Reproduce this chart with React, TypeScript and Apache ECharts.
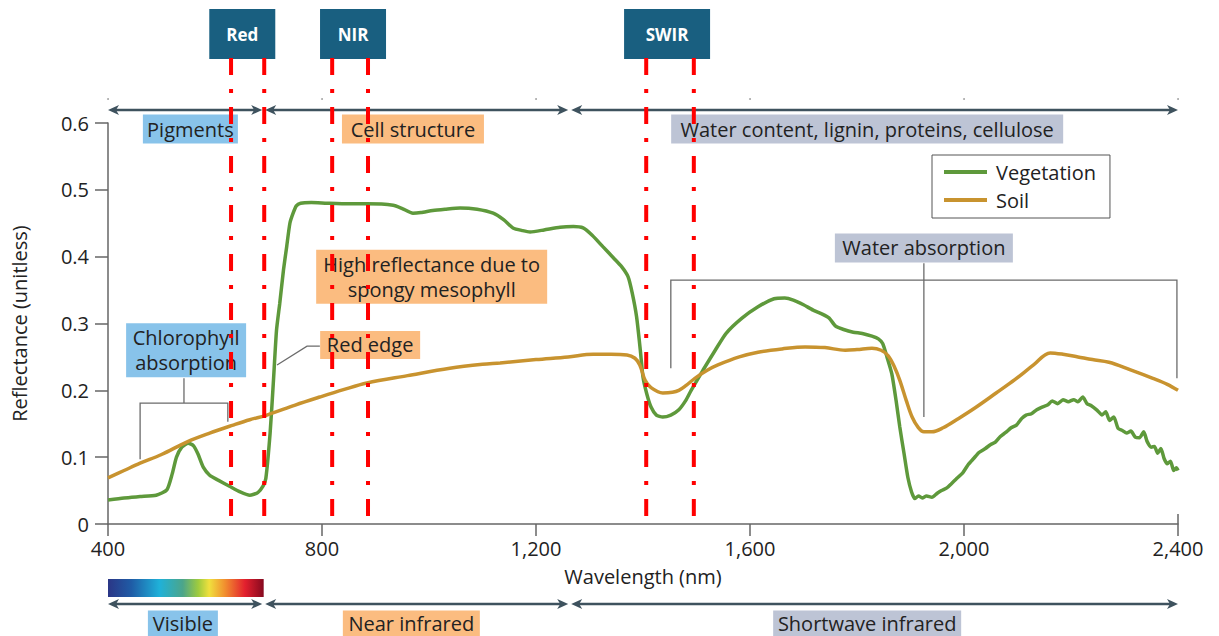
import React, { useEffect, useRef } from "react";
import * as echarts from "echarts";

const FONT = '"Open Sans", "Noto Sans", sans-serif';
const TEXT = "#222222";

// Spectral reflectance curves (wavelength in nm, reflectance unitless)
const vegWavelength = [
  400, 430, 460, 490, 510, 520, 528, 538, 550, 560, 568, 578, 590, 605, 628, 647, 665, 680, 690, 695,
  703, 709, 715, 721, 728, 734, 740, 746, 752, 760, 780, 809, 850, 884, 933, 950, 970, 985, 1007, 1030,
  1058, 1090, 1120, 1140, 1157, 1175, 1189, 1215, 1245, 1270, 1288, 1305, 1325, 1345, 1360, 1372, 1380, 1388, 1395, 1400,
  1407, 1415, 1425, 1437, 1452, 1467, 1480, 1490, 1512, 1535, 1555, 1585, 1615, 1645, 1665, 1681, 1700, 1718, 1735, 1748,
  1760, 1775, 1793, 1810, 1828, 1840, 1848, 1856, 1865, 1873, 1880, 1888, 1895, 1902, 1908, 1915, 1922, 1930, 1940, 1950,
  1958, 1968, 1976, 1985, 1998, 2008, 2018, 2028, 2040, 2050, 2058, 2068, 2078, 2088, 2098, 2108, 2116, 2126, 2136, 2146,
  2156, 2165, 2175, 2185, 2195, 2205, 2213, 2222, 2230, 2238, 2249, 2258, 2265, 2272, 2280, 2288, 2296, 2304, 2312, 2320,
  2328, 2336, 2342, 2350, 2356, 2362, 2368, 2374, 2380, 2386, 2392, 2397, 2400,
];
const vegReflectance = [
  0.036, 0.039, 0.041, 0.043, 0.051, 0.075, 0.1, 0.115, 0.121, 0.117, 0.105, 0.085, 0.073, 0.066, 0.056, 0.048, 0.043, 0.047, 0.057, 0.068,
  0.136, 0.211, 0.29, 0.33, 0.38, 0.415, 0.45, 0.465, 0.476, 0.48, 0.481, 0.48, 0.479, 0.479, 0.477, 0.472, 0.465, 0.466, 0.469, 0.471,
  0.473, 0.471, 0.465, 0.455, 0.443, 0.439, 0.437, 0.44, 0.444, 0.445, 0.443, 0.432, 0.415, 0.398, 0.385, 0.37, 0.345, 0.31, 0.26, 0.22,
  0.195, 0.175, 0.163, 0.16, 0.163, 0.171, 0.185, 0.2, 0.23, 0.26, 0.285, 0.308, 0.325, 0.337, 0.338, 0.335, 0.328, 0.32, 0.314, 0.308,
  0.296, 0.291, 0.287, 0.285, 0.281, 0.277, 0.27, 0.25, 0.225, 0.185, 0.145, 0.105, 0.07, 0.048, 0.038, 0.042, 0.039, 0.042, 0.04, 0.046,
  0.05, 0.054, 0.06, 0.067, 0.077, 0.089, 0.098, 0.107, 0.113, 0.119, 0.122, 0.131, 0.137, 0.144, 0.148, 0.158, 0.163, 0.165, 0.171, 0.175,
  0.178, 0.184, 0.18, 0.186, 0.183, 0.186, 0.183, 0.19, 0.18, 0.177, 0.17, 0.163, 0.168, 0.155, 0.16, 0.143, 0.14, 0.136, 0.139, 0.13,
  0.129, 0.138, 0.124, 0.115, 0.116, 0.106, 0.113, 0.098, 0.09, 0.094, 0.08, 0.084, 0.08,
];

const soilWavelength = [
  400, 430, 460, 500, 548, 590, 634, 665, 697, 750, 796, 840, 884, 960, 1039, 1100, 1133, 1200, 1260, 1307,
  1340, 1370, 1385, 1394, 1404, 1415, 1437, 1455, 1467, 1480, 1497, 1520, 1540, 1580, 1615, 1660, 1703, 1740, 1778, 1800,
  1828, 1845, 1858, 1870, 1880, 1892, 1903, 1914, 1925, 1940, 1961, 1990, 2021, 2060, 2095, 2130, 2161, 2185, 2213, 2240,
  2271, 2310, 2353, 2380, 2400,
];
const soilReflectance = [
  0.069, 0.08, 0.091, 0.104, 0.123, 0.136, 0.148, 0.156, 0.163, 0.178, 0.19, 0.201, 0.211, 0.222, 0.233, 0.239, 0.241, 0.246, 0.25, 0.254,
  0.254, 0.253, 0.248, 0.238, 0.215, 0.204, 0.196, 0.197, 0.2, 0.207, 0.218, 0.23, 0.238, 0.25, 0.257, 0.262, 0.265, 0.264, 0.26, 0.261,
  0.263, 0.26, 0.252, 0.235, 0.215, 0.185, 0.16, 0.145, 0.138, 0.138, 0.144, 0.158, 0.174, 0.196, 0.216, 0.238, 0.256, 0.254, 0.25, 0.246,
  0.242, 0.231, 0.218, 0.209, 0.2,
];

// Sensor bands (nm) and where each band's header sits
const bandNames = ["Red", "NIR", "SWIR"];
const bandStart = [630, 819, 1406];
const bandEnd = [692, 886, 1495];
const bandHeaderCenter = [651, 858, 1445];

// Spectral regions (nm) with their labels
const regionStart = [400, 691, 1263];
const regionEnd = [691, 1263, 2400];
const regionTopLabels = ["Pigments", "Cell structure", "Water content, lignin, proteins, cellulose"];
const regionBottomLabels = ["Visible", "Near infrared", "Shortwave infrared"];

const GREEN = "#5e993b";
const GOLD = "#c8932f";
const BLUE_BOX = "#88c3ea";
const ORANGE_BOX = "#fbbc80";
const GREY_BOX = "#bdc4d5";
const ARROW = "#3e525e";
const BRACKET = "#6b6b6b";

function textEl(x: number, y: number, text: string) {
  return {
    type: "text",
    x,
    y,
    z: 51,
    style: {
      text,
      fill: TEXT,
      fontSize: 20,
      fontFamily: FONT,
      align: "center",
      verticalAlign: "middle",
      textAlign: "center",
      textVerticalAlign: "middle",
    },
  };
}

// filled box with one or more centred lines of text
function labelBox(cx: number, cy: number, w: number, h: number, fill: string, lines: string[], spacing = 25) {
  const first = cy - ((lines.length - 1) * spacing) / 2;
  return {
    type: "group",
    z: 50,
    children: [
      { type: "rect", shape: { x: cx - w / 2, y: cy - h / 2, width: w, height: h }, style: { fill }, z: 50 },
      ...lines.map((t, i) => textEl(cx, first + i * spacing, t)),
    ],
  };
}

function doubleArrow(x1: number, x2: number, y: number) {
  const L = 11;
  const H = 5;
  const N = 3;
  return [
    { type: "line", z: 40, shape: { x1: x1 + 6, y1: y, x2: x2 - 6, y2: y }, style: { stroke: ARROW, lineWidth: 2.6 } },
    {
      type: "polygon",
      z: 40,
      shape: { points: [[x1, y], [x1 + L, y - H], [x1 + L - N, y], [x1 + L, y + H]] },
      style: { fill: ARROW },
    },
    {
      type: "polygon",
      z: 40,
      shape: { points: [[x2, y], [x2 - L, y - H], [x2 - L + N, y], [x2 - L, y + H]] },
      style: { fill: ARROW },
    },
  ];
}

function polyline(points: number[][]) {
  return { type: "polyline", z: 45, shape: { points }, style: { stroke: BRACKET, lineWidth: 1.3, fill: "none" } };
}

function buildGraphic(chart: echarts.ECharts) {
  const px = (nm: number, r: number) => chart.convertToPixel({ xAxisIndex: 0, yAxisIndex: 0 }, [nm, r]) as number[];
  const X = (nm: number) => px(nm, 0)[0];
  const Y = (r: number) => px(400, r)[1];
  const els: any[] = [];

  // band header boxes and dash-dot band edges
  const boxW = [66, 66, 86];
  bandNames.forEach((name, i) => {
    const cx = X(bandHeaderCenter[i]);
    els.push({ type: "rect", z: 60, shape: { x: cx - boxW[i] / 2, y: 9, width: boxW[i], height: 50 }, style: { fill: "#195f80" } });
    els.push({
      type: "text",
      z: 61,
      x: cx,
      y: 34,
      style: {
        text: name,
        fill: "#ffffff",
        fontSize: 17,
        fontWeight: "bold",
        fontFamily: FONT,
        align: "center",
        verticalAlign: "middle",
        textAlign: "center",
        textVerticalAlign: "middle",
      },
    });
    [X(bandStart[i]), X(bandEnd[i])].forEach((x) => {
      els.push({
        type: "line",
        z: 100,
        shape: { x1: x, y1: 58, x2: x, y2: Y(0) - 5 },
        style: { stroke: "#ff0000", lineWidth: 4, lineDash: [17, 14, 4, 14] },
      });
    });
  });

  // faint marks above the top arrows at each wavelength tick
  [400, 800, 1200, 1600, 2000, 2400].forEach((nm) => {
    els.push({ type: "circle", z: 30, shape: { cx: X(nm), cy: 99, r: 0.9 }, style: { fill: "#9a9a9a" } });
  });

  // region arrows and labels (top and bottom)
  const topCenters = [554, 970, 1819];
  const topWidths = [95, 142, 392];
  const fills = [BLUE_BOX, ORANGE_BOX, GREY_BOX];
  const bottomCenters = [540, 967, 1819];
  const bottomWidths = [70, 137, 188];
  regionStart.forEach((s, i) => {
    const a = X(s) + (i === 0 ? 0 : 1.5);
    const b = X(regionEnd[i]) - (i === regionStart.length - 1 ? 0 : 1.5);
    els.push(...doubleArrow(a, b, 110));
    els.push(...doubleArrow(a, b, 604));
    els.push(labelBox(X(topCenters[i]), 129, topWidths[i], 29, fills[i], [regionTopLabels[i]]));
    els.push(labelBox(X(bottomCenters[i]), 623.5, bottomWidths[i], 26, fills[i], [regionBottomLabels[i]]));
  });

  // visible spectrum colour bar
  const v0 = X(regionStart[0]);
  const v1 = X(regionEnd[0]);
  els.push({
    type: "rect",
    z: 30,
    shape: { x: v0, y: 579, width: v1 - v0, height: 18 },
    style: {
      fill: new echarts.graphic.LinearGradient(0, 0, 1, 0, [
        { offset: 0, color: "#2b3686" },
        { offset: 0.15, color: "#1f5ca6" },
        { offset: 0.33, color: "#1fb1d9" },
        { offset: 0.48, color: "#4ca58a" },
        { offset: 0.58, color: "#9fcb3e" },
        { offset: 0.65, color: "#f0e03e" },
        { offset: 0.75, color: "#f1902f" },
        { offset: 0.88, color: "#e3202e" },
        { offset: 1, color: "#86091f" },
      ]),
    },
  });

  // chlorophyll absorption callout
  const stemX = X(542);
  els.push(polyline([[stemX, Y(0.218)], [stemX, Y(0.181)]]));
  els.push(polyline([[X(460), Y(0.097)], [X(460), Y(0.181)], [X(624), Y(0.181)], [X(624), Y(0.153)]]));
  els.push(labelBox(X(546), Y(0.26), 120, 54, BLUE_BOX, ["Chlorophyll", "absorption"]));

  // red edge callout
  els.push(polyline([px(716, 0.238), px(772, 0.266), px(796, 0.266)]));
  els.push(labelBox(X(890), Y(0.268), 100, 28, ORANGE_BOX, ["Red edge"]));

  // NIR plateau callout
  els.push(labelBox(X(1005), Y(0.37), 231, 54, ORANGE_BOX, ["High reflectance due to", "spongy mesophyll"]));

  // water absorption callout
  const wx = X(1925);
  els.push(polyline([[X(1452), Y(0.233)], [X(1452), Y(0.365)], [X(2398), Y(0.365)], [X(2398), Y(0.218)]]));
  els.push(polyline([[wx, Y(0.39)], [wx, Y(0.16)]]));
  els.push(labelBox(wx, Y(0.413), 178, 29, GREY_BOX, ["Water absorption"]));

  // closing mark at the right end of the wavelength axis
  els.push({
    type: "line",
    z: 30,
    shape: { x1: X(2400), y1: Y(0) - 10, x2: X(2400), y2: Y(0) },
    style: { stroke: "#666", lineWidth: 1.5 },
  });

  return els;
}

export default function App() {
  const ref = useRef<HTMLDivElement>(null);

  useEffect(() => {
    if (!ref.current) return;
    const chart = echarts.init(ref.current, null, { renderer: "svg" });
    chart.setOption({
      animation: false,
      backgroundColor: "#ffffff",
      textStyle: { fontFamily: FONT },
      grid: { left: 108, right: 41, top: 123, bottom: 112, containLabel: false },
      legend: {
        data: ["Vegetation", "Soil"],
        orient: "vertical",
        left: 932,
        top: 155,
        padding: [7, 14, 8, 12],
        icon: "rect",
        itemWidth: 43,
        itemHeight: 4,
        itemGap: 8,
        borderColor: "#555",
        borderWidth: 1,
        borderRadius: 0,
        textStyle: { fontSize: 20, color: TEXT, fontFamily: FONT, padding: [0, 0, 0, 4] },
      },
      xAxis: {
        type: "value",
        min: 400,
        max: 2400,
        interval: 400,
        name: "Wavelength (nm)",
        nameLocation: "middle",
        nameGap: 42,
        nameTextStyle: { fontSize: 20, color: TEXT, fontFamily: FONT },
        axisLine: { show: true, lineStyle: { color: "#666", width: 1.5 } },
        axisTick: { show: true, length: 12, lineStyle: { color: "#666", width: 1.5 } },
        axisLabel: {
          margin: 14,
          fontSize: 20,
          color: TEXT,
          fontFamily: FONT,
          formatter: (v: number) => v.toLocaleString("en-US"),
        },
        splitLine: { show: false },
      },
      yAxis: {
        type: "value",
        min: 0,
        max: 0.6,
        interval: 0.1,
        name: "Reflectance (unitless)",
        nameLocation: "middle",
        nameGap: 79,
        nameTextStyle: { fontSize: 20, color: TEXT, fontFamily: FONT },
        axisLine: { show: true, lineStyle: { color: "#666", width: 1.5 } },
        axisTick: { show: true, length: 13, lineStyle: { color: "#666", width: 1.5 } },
        axisLabel: {
          margin: 19,
          fontSize: 20,
          color: TEXT,
          fontFamily: FONT,
          formatter: (v: number) => (v === 0 ? "0" : v.toFixed(1)),
        },
        splitLine: { show: false },
      },
      series: [
        {
          name: "Vegetation",
          type: "line",
          data: vegWavelength.map((w, i) => [w, vegReflectance[i]]),
          symbol: "none",
          smooth: 0.2,
          lineStyle: { color: GREEN, width: 3.5 },
          itemStyle: { color: GREEN },
          z: 3,
        },
        {
          name: "Soil",
          type: "line",
          data: soilWavelength.map((w, i) => [w, soilReflectance[i]]),
          symbol: "none",
          smooth: 0.35,
          lineStyle: { color: GOLD, width: 3.5 },
          itemStyle: { color: GOLD },
          z: 4,
        },
      ],
    });
    chart.setOption({ graphic: buildGraphic(chart) });
    return () => chart.dispose();
  }, []);

  return <div ref={ref} style={{ position: "absolute", left: 0, top: 0, width: 1219, height: 636 }} />;
}
